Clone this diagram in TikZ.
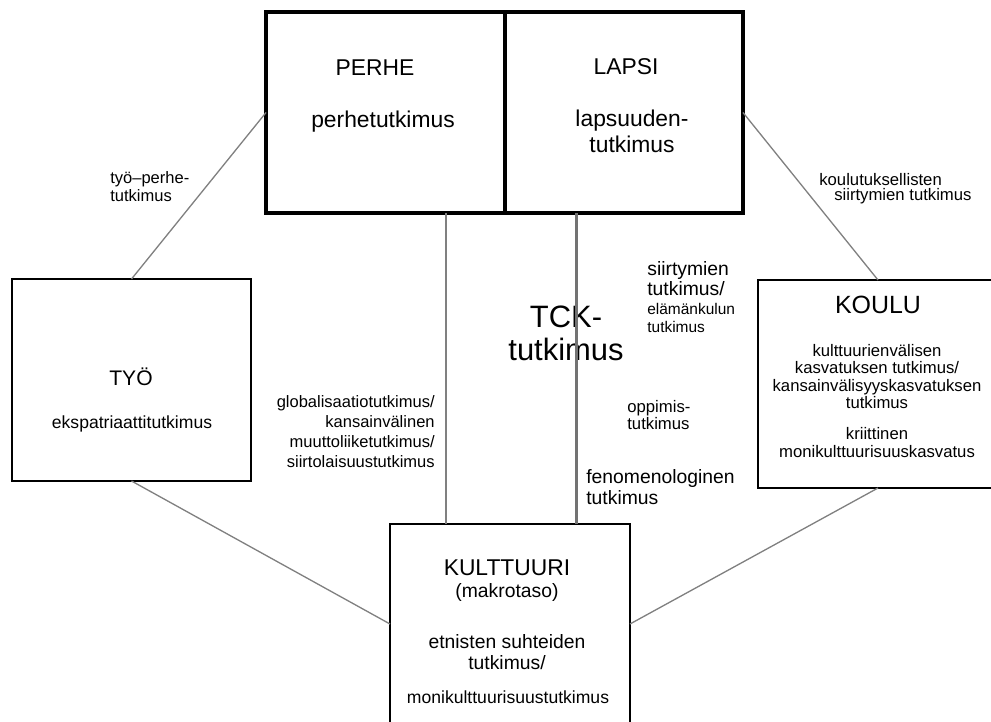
\documentclass[tikz,border=0pt]{standalone}
\usepackage{fontspec}
\setmainfont{Liberation Sans}
\definecolor{lgray}{rgb}{0.5, 0.5, 0.5}
\definecolor{dgray}{rgb}{0.45, 0.45, 0.45}
\tikzset{
  box/.style={draw, rectangle, line width=1.4pt, inner sep=0pt, outer sep=0pt},
  topbox/.style={box, line width=1.8pt},
  link/.style={draw=lgray, line width=0.75pt},
  lbl/.style={inner sep=0pt},
}

\begin{document}
\begin{tikzpicture}[x=0.02cm, y=-0.02cm]
  \useasboundingbox (0,0) rectangle (991,721);

  % laatikot
  \node[topbox, minimum width=4.78cm, minimum height=4.02cm] (perhe) at (385.5,112.5) {};
  \node[topbox, minimum width=4.76cm, minimum height=4.02cm] (lapsi) at (624,112.5) {};
  \node[box, minimum width=4.78cm, minimum height=4.04cm] (tyo) at (131.5,380) {};
  \node[box, minimum width=4.8cm, minimum height=4.16cm] (koulu) at (878,384) {};
  \node[box, minimum width=4.8cm, minimum height=4.0cm] (kulttuuri) at (510,624) {};

  % yhteydet
  \draw[link] (perhe.west) -- (tyo.north);
  \draw[link] (lapsi.east) -- (koulu.north);
  \draw[link] (tyo.south) -- (kulttuuri.west);
  \draw[link] (koulu.south) -- (kulttuuri.east);

  % tekstit laatikoissa (base = viimeisen rivin perusviiva)
  \node[lbl, anchor=base, font=\fontsize{13}{15}\selectfont] (perheT) at (375,75) {PERHE};
  \node[lbl, anchor=base, font=\fontsize{13}{15}\selectfont] (perheS) at (383,127) {perhetutkimus};
  \node[lbl, anchor=base, font=\fontsize{13}{15}\selectfont] (lapsiT) at (626,74) {LAPSI};
  \node[lbl, anchor=base, align=center, font=\fontsize{13}{14.7}\selectfont] (lapsiS) at (632,152) {lapsuuden-\\tutkimus};
  \node[lbl, anchor=base, font=\fontsize{12}{14}\selectfont] (tyoT) at (131,385) {TYÖ};
  \node[lbl, anchor=base, font=\fontsize{10}{12}\selectfont] (tyoS) at (132,428) {ekspatriaattitutkimus};
  \node[lbl, anchor=base, font=\fontsize{14.2}{16}\selectfont] (kouluT) at (878,313) {KOULU};
  \node[lbl, anchor=base, align=center, font=\fontsize{9.5}{9.9}\selectfont] (kouluS) at (877,457)
    {kulttuurienvälisen\\kasvatuksen tutkimus/\\kansainvälisyyskasvatuksen\\tutkimus\\[7.7pt]kriittinen\\monikulttuurisuuskasvatus};
  \node[lbl, anchor=base, font=\fontsize{13}{15}\selectfont] (kulttuuriT) at (507,575) {KULTTUURI};
  \node[lbl, anchor=base, font=\fontsize{11}{13}\selectfont] (makro) at (507,597) {(makrotaso)};
  \node[lbl, anchor=base, align=center, font=\fontsize{11}{11.9}\selectfont] (kulttuuriS) at (507,669) {etnisten suhteiden\\tutkimus/};
  \node[lbl, anchor=base, font=\fontsize{10}{12}\selectfont] (moni) at (508,703) {monikulttuurisuustutkimus};

  % tekstit viivojen vieressa
  \node[lbl, anchor=base west, align=left, font=\fontsize{9.4}{8.5}\selectfont] (tyoperhe) at (110,201) {työ–perhe-\\tutkimus};
  \node[lbl, anchor=base west, align=left, font=\fontsize{9.5}{8.3}\selectfont] (siirt1) at (819,200) {koulutuksellisten\\\hspace*{8.5pt}siirtymien tutkimus};
  \node[lbl, anchor=base east, align=right, font=\fontsize{9.4}{11.3}\selectfont] (glob) at (435,467)
    {globalisaatiotutkimus/\\kansainvälinen\\muuttoliiketutkimus/\\siirtolaisuustutkimus};
  \node[lbl, anchor=base west, align=left, font=\fontsize{11}{11.3}\selectfont] (siirt2) at (647,295) {siirtymien\\tutkimus/};
  \node[lbl, anchor=base west, align=left, font=\fontsize{8.8}{10.2}\selectfont] (elama) at (647,332) {elämänkulun\\tutkimus};
  \node[lbl, anchor=base west, align=left, font=\fontsize{9.5}{9.6}\selectfont] (oppi) at (627,429) {oppimis-\\tutkimus};
  \node[lbl, anchor=base west, align=left, font=\fontsize{11}{11.9}\selectfont] (feno) at (586,504) {fenomenologinen\\tutkimus};
  \node[lbl, anchor=base, align=center, font=\fontsize{17.6}{18.7}\selectfont] (tck) at (566,360) {TCK-\\tutkimus};

  % pystyviivat
  \draw[link] (perhe.south west) ++(180,0) coordinate (pv) -- (pv |- kulttuuri.north);
  \draw[draw=dgray, line width=1.7pt] (lapsi.south west) ++(71,0) coordinate (lv) -- (lv |- kulttuuri.north);
\end{tikzpicture}
\end{document}
